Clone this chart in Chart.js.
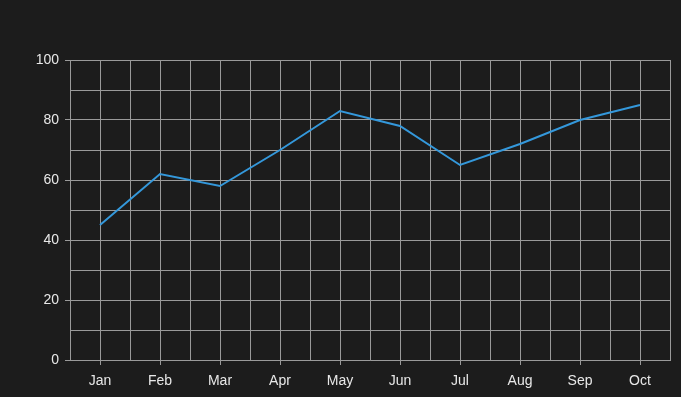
<!DOCTYPE html>
<html>
<head>
<meta charset="utf-8">
<script src="https://cdn.jsdelivr.net/npm/chart.js@4/dist/chart.umd.min.js"></script>
<style>
  html, body { margin: 0; padding: 0; background: #1c1c1c; }
  #wrap { width: 681px; height: 397px; }
</style>
</head>
<body>
<div id="wrap"><canvas id="chart" width="681" height="397"></canvas></div>
<script>
// chart data
var months = ["Jan", "Feb", "Mar", "Apr", "May", "Jun", "Jul", "Aug", "Sep", "Oct"];
var values = [45, 62, 58, 70, 83, 78, 65, 72, 80, 85];
var yTicks = [0, 20, 40, 60, 80, 100];

var gridColor = "#9a9a9a";
var textColor = "#e8e8e8";

/**
 * points on a linear x scale so half-step grid lines fall between months
 */
var points = [];
for (var i = 0; i < months.length; i++) {
  points.push({ x: i, y: values[i] });
}

new Chart(document.getElementById("chart").getContext("2d"), {
  type: "line",
  data: {
    datasets: [{
      data: points,
      borderColor: "#3498db",
      borderWidth: 2,
      pointRadius: 0,
      tension: 0,
      fill: false
    }]
  },
  options: {
    responsive: false,
    animation: false,
    layout: { padding: { top: 60, right: 11, left: 0, bottom: 0 } },
    plugins: { legend: { display: false }, tooltip: { enabled: false } },
    scales: {
      x: {
        type: "linear",
        min: -0.5,
        max: months.length - 0.5,
        afterFit: function(scale) { scale.height = 37; },
        afterBuildTicks: function(scale) {
          var t = [];
          for (var v = -0.5; v <= months.length - 0.5; v += 0.5) t.push({ value: v });
          scale.ticks = t;
        },
        grid: {
          color: gridColor,
          lineWidth: 1,
          tickLength: 5,
          tickColor: function(ctx) {
            return ctx.tick && Number.isInteger(ctx.tick.value) ? gridColor : "transparent";
          }
        },
        border: { color: gridColor },
        ticks: {
          color: textColor,
          font: { family: "Liberation Sans, Arial, sans-serif", size: 14 },
          padding: 8,
          maxRotation: 0,
          autoSkip: false,
          callback: function(v) {
            return Number.isInteger(v) ? months[v] : "";
          }
        }
      },
      y: {
        min: 0,
        max: 100,
        afterFit: function(scale) { scale.width = 70; },
        afterBuildTicks: function(scale) {
          var t = [];
          for (var v = 0; v <= 100; v += 10) t.push({ value: v });
          scale.ticks = t;
        },
        grid: {
          color: gridColor,
          lineWidth: 1,
          tickLength: 5,
          tickColor: function(ctx) {
            return ctx.tick && yTicks.indexOf(ctx.tick.value) >= 0 ? gridColor : "transparent";
          }
        },
        border: { color: gridColor },
        ticks: {
          color: textColor,
          font: { family: "Liberation Sans, Arial, sans-serif", size: 14 },
          padding: 6,
          callback: function(v) {
            return yTicks.indexOf(v) >= 0 ? String(v) : "";
          }
        }
      }
    }
  }
});
</script>
</body>
</html>
